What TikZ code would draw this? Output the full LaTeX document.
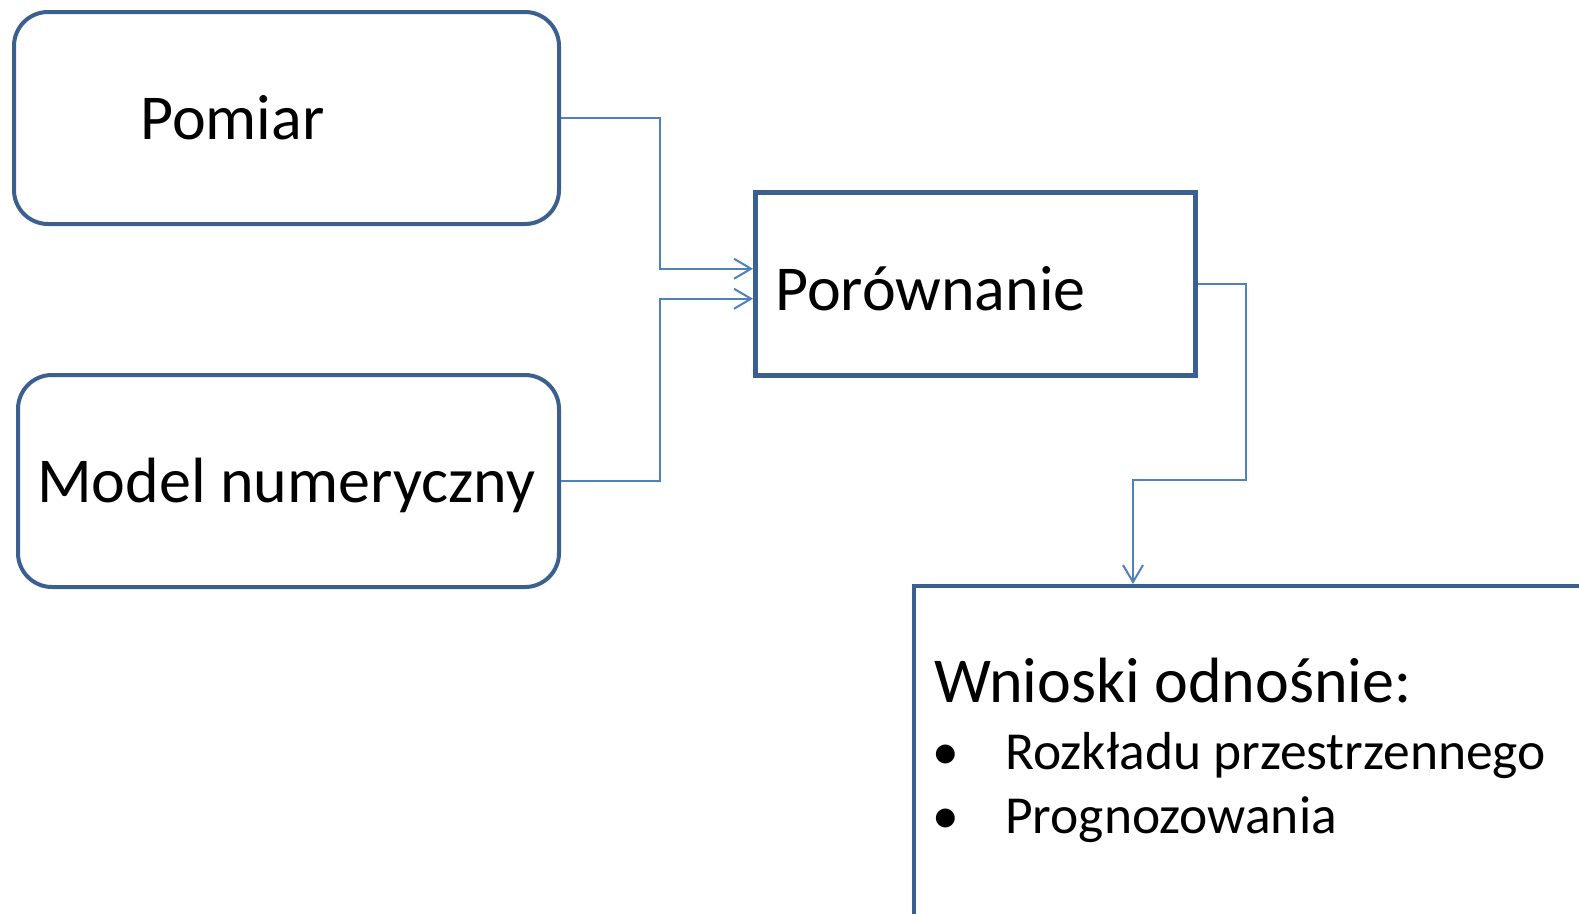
\documentclass[tikz,border=0pt]{standalone}
\usepackage{fontspec}
\setmainfont{Carlito}
\usetikzlibrary{arrows.meta, positioning}
\definecolor{boxblue}{HTML}{3B5F8E}
\definecolor{lineblue}{HTML}{4F81BD}

\begin{document}
\begin{tikzpicture}[x=1pt, y=-1pt,
    roundbox/.style={rectangle, rounded corners=34pt, draw=boxblue, line width=4pt,
        minimum width=545pt, minimum height=212pt, anchor=north west, inner sep=0pt},
    sharpbox/.style={rectangle, draw=boxblue, line width=4.5pt, anchor=north west, inner sep=0pt},
    bigtext/.style={anchor=base west, inner sep=0pt, font=\fontsize{64}{76}\selectfont},
    smalltext/.style={anchor=base west, inner sep=0pt, font=\fontsize{53.5}{64}\selectfont},
    link/.style={draw=lineblue, line width=2pt, -{Straight Barb[length=17pt, width=20pt]}}]
    \useasboundingbox (0,0) rectangle (1579,913);
    \clip (0,0) rectangle (1579,913);

    % boxes
    \node[roundbox] (pom) at (12,10) {};
    \node[roundbox, minimum width=541pt] (mod) at (16,373) {};
    \node[sharpbox, minimum width=440pt, minimum height=183pt] (por) at (753,190) {};
    \node[sharpbox, line width=4pt, minimum width=1000pt, minimum height=600pt] (wn) at (912,584) {};

    % texts
    \node[bigtext] (pomt) at ([shift={(128,21)}]pom.west) {Pomiar};
    \node[bigtext] (modt) at ([shift={(21,21)}]mod.west) {Model numeryczny};
    \node[bigtext] (port) at ([shift={(22,27)}]por.west) {Porównanie};
    \node[bigtext] (wnt) at ([shift={(22,118)}]wn.north west) {Wnioski odnośnie:};
    \node[smalltext] (r1) at ([shift={(20,185)}]wn.north west) {\makebox[73pt][l]{•}Rozkładu przestrzennego};
    \node[smalltext] (r2) at ([shift={(20,249)}]wn.north west) {\makebox[73pt][l]{•}Prognozowania};

    % connectors
    \coordinate (wtop) at ([xshift=221pt]wn.north west);
    \draw[link] (pom.east) -- ++(99,0) |- ([yshift=15pt]por.west);
    \draw[link] (mod.east) -- ++(99,0) |- ([yshift=-15pt]por.west);
    \draw[link] (por.east) -- ++(48,0) -- ++(0,196) -| (wtop);
\end{tikzpicture}
\end{document}
